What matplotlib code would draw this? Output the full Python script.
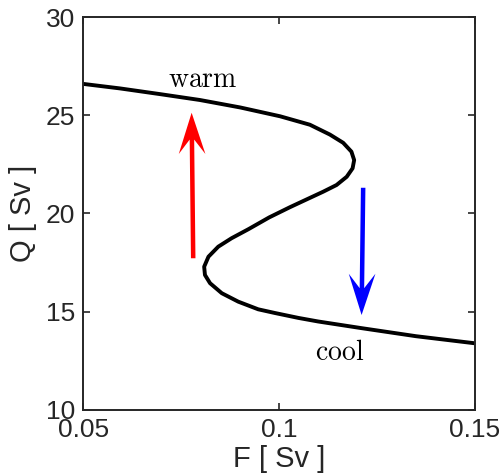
import matplotlib
matplotlib.use("Agg")
import matplotlib.pyplot as plt

plt.rcParams['font.family'] = ['Liberation Sans', 'DejaVu Sans']
plt.rcParams['mathtext.fontset'] = 'cm'

# S-shaped equilibrium curve (F along x, Q along y)
F_curve = [0.0500, 0.0594, 0.0696, 0.0798, 0.0901, 0.1003, 0.1079, 0.1130,
           0.1164, 0.1185, 0.1192, 0.1188, 0.1173, 0.1147, 0.1113, 0.1071,
           0.1028, 0.0975, 0.0922, 0.0879, 0.0845, 0.0820, 0.0809, 0.0811,
           0.0824, 0.0854, 0.0896, 0.0947, 0.0990, 0.1050, 0.1100, 0.1211,
           0.1350, 0.1500]
Q_curve = [26.60, 26.37, 26.08, 25.78, 25.40, 24.95, 24.52, 24.02,
           23.60, 23.15, 22.72, 22.30, 21.87, 21.45, 21.11, 20.72,
           20.32, 19.80, 19.20, 18.74, 18.31, 17.80, 17.29, 16.87,
           16.45, 15.94, 15.51, 15.12, 14.93, 14.68, 14.50, 14.16,
           13.75, 13.39]

# transition arrows: (F start, Q start, F end, Q end)
warm_jump = (0.0781, 17.72, 0.0777, 25.13)
cool_jump = (0.1215, 21.31, 0.1211, 14.83)

labels = ['warm', 'cool']
label_F = [0.0805, 0.1156]
label_Q = [26.82, 12.88]

fig = plt.figure(figsize=(5.04, 4.76), dpi=100)
ax = fig.add_axes([0.165, 0.139, 0.777, 0.825])

ax.plot(F_curve, Q_curve, color='black', lw=2.8,
        solid_joinstyle='round', solid_capstyle='butt')

for (f0, q0, f1, q1), col in [(warm_jump, 'red'), (cool_jump, 'blue')]:
    ax.arrow(f0, q0, f1 - f0, q1 - q0, width=0.00115, head_width=0.0068,
             head_length=2.1, overhang=0.35, length_includes_head=True,
             color=col, lw=0)

for txt, f, q in zip(labels, label_F, label_Q):
    ax.text(f, q, r'$\mathrm{%s}$' % txt, fontsize=20, ha='center', va='center')

ax.set_xlim(0.05, 0.15)
ax.set_ylim(10, 30)
ax.set_xticks([0.05, 0.1, 0.15])
ax.set_xticklabels(['0.05', '0.1', '0.15'])
ax.set_yticks([10, 15, 20, 25, 30])
ax.tick_params(direction='in', top=True, right=True, length=5, width=1.2,
               labelsize=19, colors='#262626', pad=6)
for s in ax.spines.values():
    s.set_linewidth(1.4)
    s.set_color('#262626')

ax.set_xlabel('F [ Sv ]', fontsize=21, color='#262626', labelpad=2)
ax.set_ylabel('Q [ Sv ]', fontsize=21, color='#262626', labelpad=6)

fig.savefig('out.png', dpi=100)
